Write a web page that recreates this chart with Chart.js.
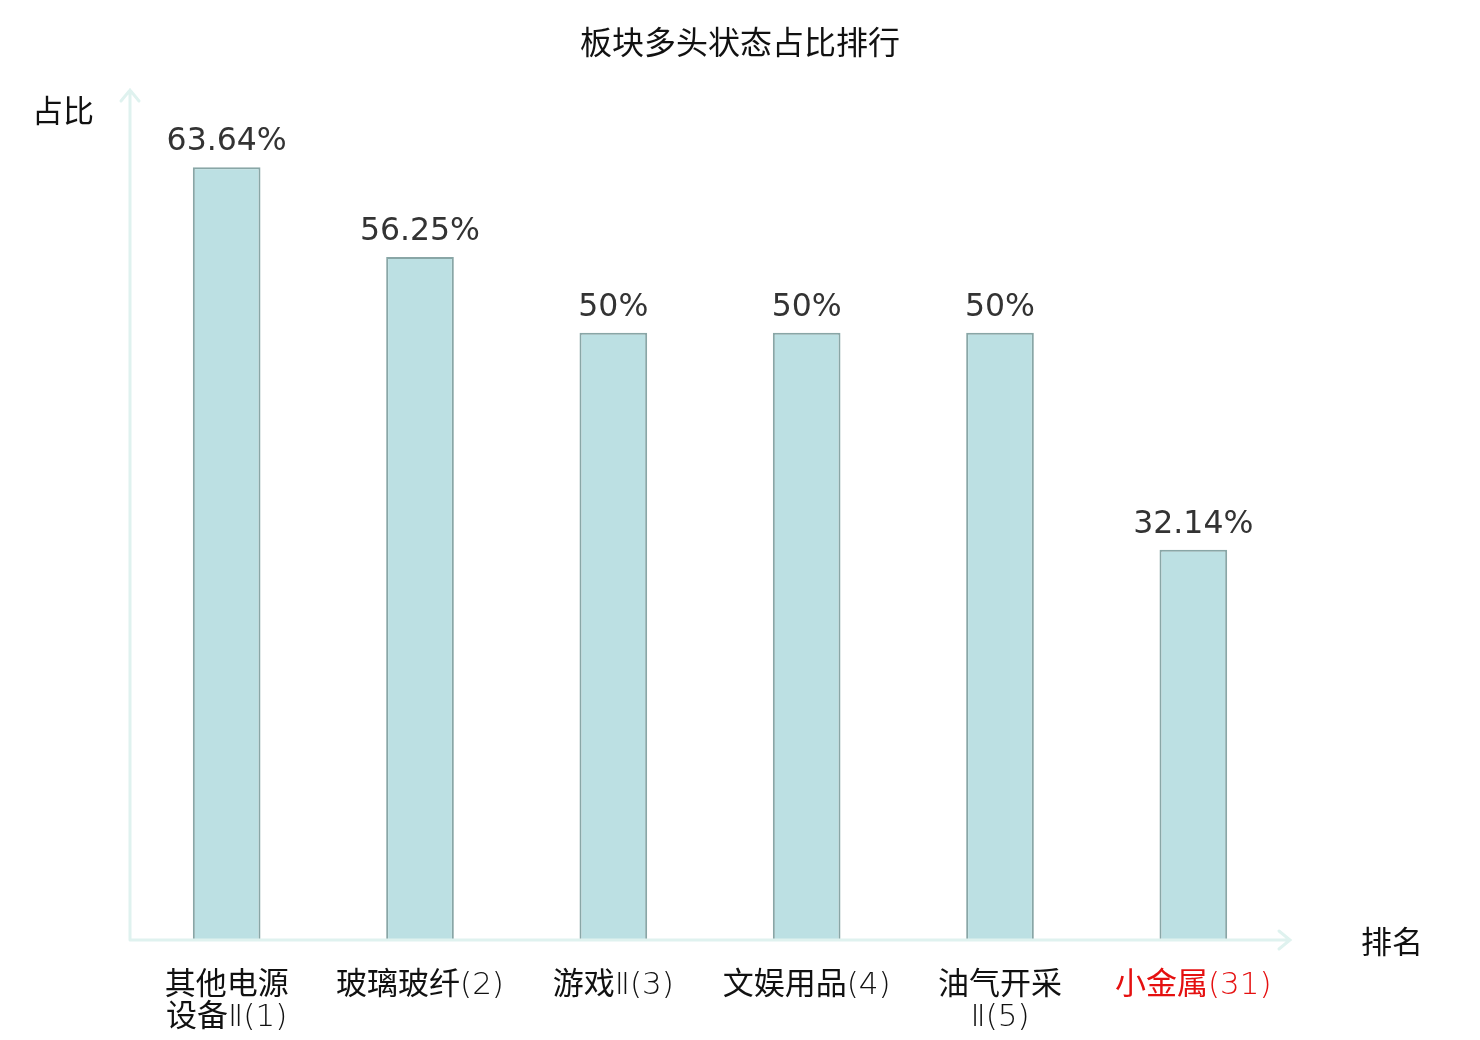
<!DOCTYPE html>
<html>
<head>
<meta charset="utf-8">
<script src="https://cdn.jsdelivr.net/npm/chart.js@4/dist/chart.umd.min.js"></script>
<style>
  html, body { margin: 0; padding: 0; background: #fff; }
  #wrap { width: 1480px; height: 1040px; }
</style>
</head>
<body>
<div id="wrap"><canvas id="bar-chart"></canvas></div>
<script>
const titleText = "板块多头状态占比排行";
const yName = "占比";
const xName = "排名";
const categories = [
  ["其他电源", "设备Ⅱ(1)"],
  "玻璃玻纤(2)",
  "游戏Ⅱ(3)",
  "文娱用品(4)",
  ["油气开采", "Ⅱ(5)"],
  "小金属(31)",
];
const values = [63.64, 56.25, 50, 50, 50, 32.14];
const valueLabels = ["63.64%", "56.25%", "50%", "50%", "50%", "32.14%"];
const highlightIndex = 5;

const font = "'Noto Sans CJK SC', 'Noto Sans', sans-serif";
const tickFont = "'DejaVu Sans Light', 'DejaVu Sans', 'Noto Sans CJK SC', sans-serif";
const axisColor = "#dff2ef";

// title, arrows, axis names and value labels
const decorations = {
  id: "decorations",
  afterDatasetsDraw(chart) {
    const ctx = chart.ctx;
    const area = chart.chartArea;
    const left = area.left, bottom = area.bottom;

    ctx.save();
    ctx.strokeStyle = axisColor;
    ctx.lineWidth = 3;
    ctx.lineCap = "round";
    ctx.beginPath();
    ctx.moveTo(left, bottom);
    ctx.lineTo(left, area.top);
    ctx.moveTo(left - 9, area.top + 11);
    ctx.lineTo(left, area.top);
    ctx.lineTo(left + 9, area.top + 11);
    ctx.moveTo(left, bottom);
    ctx.lineTo(area.right, bottom);
    ctx.moveTo(area.right - 11, bottom - 9);
    ctx.lineTo(area.right, bottom);
    ctx.lineTo(area.right - 11, bottom + 9);
    ctx.stroke();

    ctx.fillStyle = "#111";
    ctx.textAlign = "center";
    ctx.textBaseline = "middle";
    ctx.font = "32px " + font;
    ctx.fillText(titleText, chart.width / 2, 42);
    ctx.font = "31px " + font;
    ctx.fillText(yName, 63, 110);
    ctx.fillText(xName, 1392, 941);

    ctx.fillStyle = "#333";
    ctx.font = "31.5px 'DejaVu Sans', sans-serif";
    ctx.textBaseline = "alphabetic";
    const meta = chart.getDatasetMeta(0);
    meta.data.forEach((bar, i) => {
      ctx.fillText(valueLabels[i], bar.x, bar.y - 17);
    });
    ctx.restore();
  },
};

let barChart = new Chart(document.getElementById("bar-chart"), {
  type: "bar",
  data: {
    labels: categories,
    datasets: [
      {
        data: values,
        backgroundColor: "#bce0e3",
        borderColor: "#89a6a6",
        borderWidth: 2,
        barPercentage: 0.35,
        categoryPercentage: 1,
      },
    ],
  },
  options: {
    responsive: true,
    maintainAspectRatio: false,
    animation: false,
    layout: {
      padding: { left: 130, right: 190, top: 90, bottom: 0 },
    },
    plugins: {
      legend: { display: false },
      tooltip: { enabled: false },
      title: { display: false },
    },
    scales: {
      x: {
        grid: { display: false, drawTicks: false },
        border: { display: false },
        ticks: {
          padding: 30,
          maxRotation: 0,
          autoSkip: false,
          font: { family: tickFont, size: 31, lineHeight: 1.03 },
          color: (c) => (c.index === highlightIndex ? "#e51010" : "#111"),
        },
        afterFit: (scale) => { scale.height = 100; },
      },
      y: {
        min: 0,
        max: 70,
        grid: { display: false, drawTicks: false },
        border: { display: false },
        ticks: { display: false },
        afterFit: (scale) => { scale.width = 0; },
      },
    },
  },
  plugins: [decorations],
});
</script>
</body>
</html>
